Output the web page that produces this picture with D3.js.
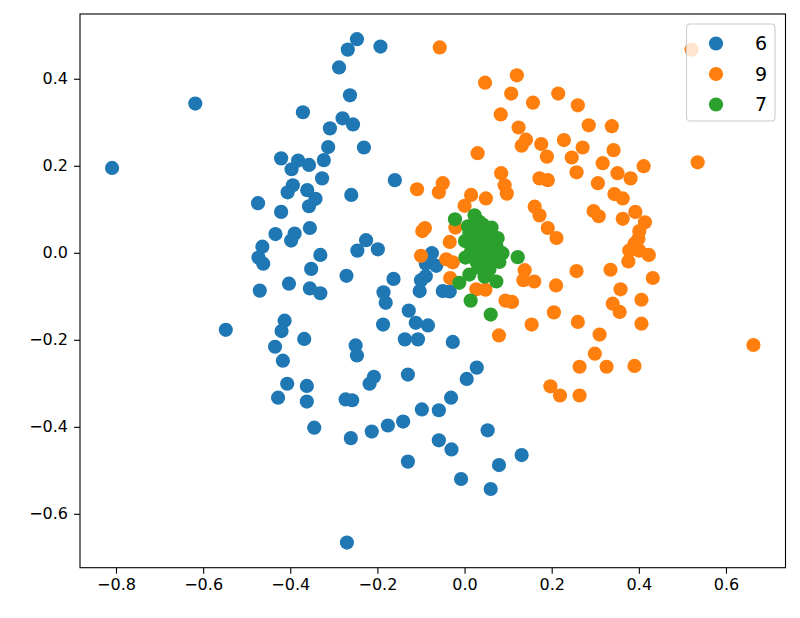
<!DOCTYPE html>
<html>
<head>
<meta charset="utf-8">
<script src="https://cdn.jsdelivr.net/npm/d3@7"></script>
<style>
  body { margin: 0; background: #fff; }
  text { font-family: "DejaVu Sans", sans-serif; }
</style>
</head>
<body>
<script>
// Constants
const width = 800;
const height = 618;
const margin = { left: 80, right: 14.5, top: 14, bottom: 50.3 };

// Legend labels and colours, in plot order
const labels = ["6", "9", "7"];
const colors = ["#1f77b4", "#ff7f0e", "#2ca02c"];

// Tick values
const xTicks = [-0.8, -0.6, -0.4, -0.2, 0.0, 0.2, 0.4, 0.6];
const yTicks = [-0.6, -0.4, -0.2, 0.0, 0.2, 0.4];

// Points of class "6" as [x, y]
const points6 = [
  [-0.809, 0.195], [-0.618, 0.343], [-0.371, 0.323], [-0.421, 0.217], [-0.382, 0.212],
  [-0.397, 0.192], [-0.357, 0.202], [-0.323, 0.213], [-0.313, 0.243], [-0.327, 0.171],
  [-0.394, 0.155], [-0.406, 0.139], [-0.361, 0.144], [-0.342, 0.124], [-0.357, 0.107],
  [-0.260, 0.133], [-0.474, 0.114], [-0.421, 0.094], [-0.434, 0.043], [-0.390, 0.044],
  [-0.398, 0.028], [-0.355, 0.057], [-0.464, 0.014], [-0.473, -0.011], [-0.462, -0.025],
  [-0.331, -0.005], [-0.246, 0.005], [-0.352, -0.037], [-0.271, -0.053], [-0.403, -0.071],
  [-0.470, -0.087], [-0.355, -0.082], [-0.331, -0.093], [-0.247, 0.491], [-0.268, 0.467],
  [-0.193, 0.474], [-0.288, 0.426], [-0.263, 0.362], [-0.280, 0.309], [-0.256, 0.295],
  [-0.309, 0.286], [-0.231, 0.242], [-0.160, 0.167], [-0.226, 0.029], [-0.199, 0.008],
  [-0.163, -0.060], [-0.075, -0.001], [-0.089, -0.025], [-0.065, -0.030], [-0.089, -0.054],
  [-0.100, -0.063], [-0.103, -0.088], [-0.050, -0.088], [-0.034, -0.089], [-0.186, -0.091],
  [-0.413, -0.156], [-0.420, -0.180], [-0.548, -0.177], [-0.368, -0.198], [-0.435, -0.216],
  [-0.417, -0.248], [-0.407, -0.301], [-0.362, -0.306], [-0.428, -0.333], [-0.362, -0.342],
  [-0.345, -0.402], [-0.181, -0.115], [-0.128, -0.133], [-0.112, -0.161], [-0.084, -0.167],
  [-0.187, -0.165], [-0.137, -0.199], [-0.107, -0.199], [-0.027, -0.205], [-0.250, -0.213],
  [-0.247, -0.236], [-0.208, -0.285], [-0.218, -0.301], [-0.130, -0.280], [0.028, -0.264],
  [0.005, -0.290], [-0.273, -0.337], [-0.258, -0.339], [-0.031, -0.333], [-0.098, -0.360],
  [-0.059, -0.362], [-0.141, -0.388], [-0.176, -0.397], [-0.213, -0.411], [-0.261, -0.426],
  [0.053, -0.408], [-0.059, -0.431], [-0.030, -0.452], [-0.130, -0.480], [0.131, -0.465],
  [0.079, -0.488], [-0.008, -0.520], [0.060, -0.543], [-0.270, -0.666]
];

// Points of class "9"
const points9 = [
  [-0.057, 0.472], [0.047, 0.391], [0.120, 0.408], [0.107, 0.366], [0.157, 0.345],
  [0.215, 0.366], [0.083, 0.318], [0.124, 0.288], [0.141, 0.260], [0.131, 0.246],
  [0.176, 0.250], [0.189, 0.221], [0.228, 0.259], [0.030, 0.229], [0.084, 0.183],
  [0.092, 0.155], [0.097, 0.136], [0.172, 0.171], [0.191, 0.167], [-0.050, 0.160],
  [-0.059, 0.139], [-0.109, 0.146], [0.015, 0.133], [0.000, 0.108], [0.049, 0.125],
  [0.161, 0.106], [0.172, 0.086], [0.191, 0.057], [0.211, 0.034], [-0.091, 0.057],
  [-0.097, 0.050], [-0.021, 0.058], [-0.034, 0.025], [-0.100, -0.007], [-0.042, -0.015],
  [-0.027, -0.022], [-0.033, -0.058], [0.138, -0.040], [0.135, -0.063], [0.160, -0.066],
  [0.210, -0.075], [0.027, -0.084], [0.048, -0.085], [0.094, -0.110], [0.109, -0.113],
  [0.205, -0.137], [0.154, -0.165], [0.079, -0.190], [0.197, -0.307], [0.219, -0.328],
  [0.260, 0.339], [0.285, 0.293], [0.338, 0.291], [0.271, 0.242], [0.342, 0.236],
  [0.246, 0.219], [0.317, 0.206], [0.411, 0.199], [0.535, 0.208], [0.257, 0.185],
  [0.351, 0.183], [0.381, 0.171], [0.306, 0.160], [0.344, 0.135], [0.363, 0.125],
  [0.296, 0.096], [0.308, 0.084], [0.363, 0.078], [0.392, 0.094], [0.414, 0.070],
  [0.401, 0.050], [0.399, 0.032], [0.390, 0.021], [0.378, 0.005], [0.401, 0.005],
  [0.423, -0.005], [0.376, -0.020], [0.257, -0.042], [0.335, -0.039], [0.432, -0.058],
  [0.358, -0.084], [0.406, -0.108], [0.340, -0.117], [0.356, -0.136], [0.260, -0.159],
  [0.406, -0.163], [0.310, -0.188], [0.663, -0.212], [0.299, -0.232], [0.264, -0.262],
  [0.326, -0.262], [0.390, -0.260], [0.264, -0.328], [0.521, 0.467]
];

// Points of class "7"
const points7 = [
  [-0.022, 0.077], [0.023, 0.086], [0.008, 0.061], [0.042, 0.065], [0.062, 0.058],
  [0.001, 0.027], [0.030, 0.037], [0.057, 0.037], [0.076, 0.034], [0.015, 0.003],
  [0.042, -0.001], [0.069, -0.001], [0.087, -0.001], [0.027, -0.020], [0.053, -0.024],
  [0.122, -0.010], [0.046, -0.055], [0.011, -0.050], [-0.012, -0.069], [0.073, -0.066],
  [0.014, -0.110], [0.060, -0.142], [0.034, 0.053], [0.048, 0.021], [0.021, 0.016],
  [0.039, -0.011], [0.062, 0.014], [0.011, 0.046], [0.073, 0.016], [0.032, -0.034],
  [0.057, -0.039], [0.044, 0.034], [0.025, -0.005], [0.080, -0.021], [0.002, -0.011],
  [0.053, 0.057], [0.034, 0.071]
];

const series = [points6, points9, points7];

// matplotlib-style 5% margins around the data
const all = series.flat();
function padded(ext) {
    const pad = (ext[1] - ext[0]) * 0.05;
    return [ext[0] - pad, ext[1] + pad];
}
const xScale = d3.scaleLinear()
    .domain(padded(d3.extent(all, d => d[0])))
    .range([margin.left, width - margin.right]);
const yScale = d3.scaleLinear()
    .domain(padded(d3.extent(all, d => d[1])))
    .range([height - margin.bottom, margin.top]);

const svg = d3.select("body")
    .append("svg")
    .attr("width", width)
    .attr("height", height);

// Clip to the axes box
svg.append("clipPath").attr("id", "plot-area")
    .append("rect")
    .attr("x", margin.left).attr("y", margin.top)
    .attr("width", width - margin.left - margin.right)
    .attr("height", height - margin.top - margin.bottom);

// Scatter points, one group per class
const plot = svg.append("g").attr("clip-path", "url(#plot-area)");
series.forEach((pts, i) => {
    plot.append("g")
        .selectAll("circle")
        .data(pts)
        .enter()
        .append("circle")
        .attr("cx", d => xScale(d[0]))
        .attr("cy", d => yScale(d[1]))
        .attr("r", 7.1)
        .attr("fill", colors[i]);
});

// Axes
const fmt = d3.format(".1f");
const xAxis = svg.append("g")
    .attr("transform", `translate(0, ${height - margin.bottom})`)
    .call(d3.axisBottom(xScale).tickValues(xTicks).tickFormat(fmt).tickSize(6).tickPadding(5).tickSizeOuter(0));
const yAxis = svg.append("g")
    .attr("transform", `translate(${margin.left}, 0)`)
    .call(d3.axisLeft(yScale).tickValues(yTicks).tickFormat(fmt).tickSize(6).tickPadding(6).tickSizeOuter(0));

[xAxis, yAxis].forEach(ax => {
    ax.select(".domain").remove();
    ax.selectAll(".tick line").attr("stroke", "#000").attr("stroke-width", 1.1);
    ax.selectAll(".tick text")
        .attr("fill", "#000")
        .style("font-size", "16px")
        .style("font-family", "'DejaVu Sans', sans-serif");
});

// Axes frame
svg.append("rect")
    .attr("x", margin.left).attr("y", margin.top)
    .attr("width", width - margin.left - margin.right)
    .attr("height", height - margin.top - margin.bottom)
    .attr("fill", "none")
    .attr("stroke", "#000")
    .attr("stroke-width", 1.1);

// Legend
const legend = svg.append("g").attr("transform", "translate(686.5, 24)");
legend.append("rect")
    .attr("width", 88.5).attr("height", 97)
    .attr("rx", 3.5).attr("ry", 3.5)
    .attr("fill", "#fff").attr("fill-opacity", 0.8)
    .attr("stroke", "#ccc").attr("stroke-width", 1.1);

labels.forEach((lab, i) => {
    const row = legend.append("g").attr("transform", `translate(0, ${19.5 + i * 30.5})`);
    row.append("circle")
        .attr("cx", 29.5).attr("cy", 0).attr("r", 7.1)
        .attr("fill", colors[i]);
    row.append("text")
        .attr("x", 80.5).attr("y", 0)
        .attr("dy", "0.36em")
        .attr("text-anchor", "end")
        .style("font-size", "19px")
        .text(lab);
});
</script>
</body>
</html>
